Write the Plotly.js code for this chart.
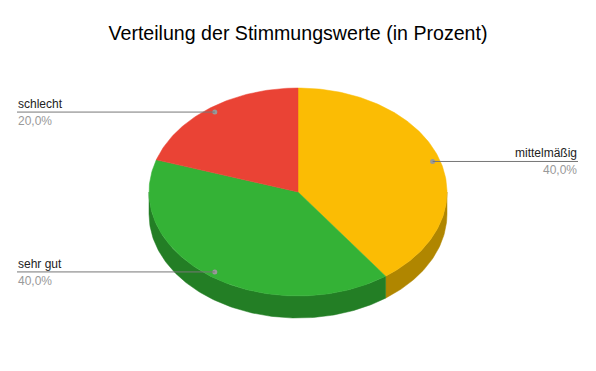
<!DOCTYPE html>
<html>
<head>
<meta charset="utf-8">
<script src="https://cdn.plot.ly/plotly-3.0.1.min.js"></script>
<style>html,body{margin:0;padding:0;background:#fff;}#chart{width:596px;height:371px;}</style>
</head>
<body>
<div id="chart"></div>
<script>
// Data
const categories = ["mittelmäßig", "sehr gut", "schlecht"];
const values = [40, 40, 20];
const topColors = ["#FBBC04", "#34B236", "#EA4335"];
const sideColors = ["#B08600", "#237E25", "#A42F25"];

// Layout geometry for the pseudo-3D pie
const W = 596, H = 371;
const cx = 298, cy = 192, rx = 149, ry = 104, depth = 22;
const total = values.reduce((a, b) => a + b, 0);
const deg = Math.PI / 180;

function pt(theta, dy) {
  return [cx + rx * Math.sin(theta * deg), cy - ry * Math.cos(theta * deg) + (dy || 0)];
}
function arc(a, b, dy) {
  const n = Math.max(2, Math.ceil(Math.abs(b - a) / 1));
  const xs = [], ys = [];
  for (let i = 0; i <= n; i++) {
    const t = a + (b - a) * i / n;
    const p = pt(t, dy);
    xs.push(p[0]); ys.push(p[1]);
  }
  return [xs, ys];
}

const traces = [];
const slices = [];
let start = 0;
values.forEach((v, i) => {
  const sweep = v / total * 360;
  slices.push({a: start, b: start + sweep, i});
  start += sweep;
});

// side walls (visible front half: 90..270 deg)
slices.forEach(s => {
  const a = Math.max(s.a, 90), b = Math.min(s.b, 270);
  if (b <= a) return;
  const [x1, y1] = arc(a, b, 0);
  const [x2, y2] = arc(b, a, depth);
  traces.push({
    type: "scatter", mode: "lines", fill: "toself",
    x: x1.concat(x2, [x1[0]]), y: y1.concat(y2, [y1[0]]),
    fillcolor: sideColors[s.i], line: {width: 0.5, color: sideColors[s.i]},
    hoverinfo: "skip", showlegend: false
  });
});

// top faces
slices.forEach(s => {
  const [xa, ya] = arc(s.a, s.b, 0);
  traces.push({
    type: "scatter", mode: "lines", fill: "toself",
    x: [cx].concat(xa, [cx]), y: [cy].concat(ya, [cy]),
    fillcolor: topColors[s.i], line: {width: 0.5, color: topColors[s.i]},
    hoverinfo: "skip", showlegend: false
  });
});

// leader lines, dots, labels
const shapes = [], annotations = [];
const dotX = [], dotY = [];
const labelFont = {family: "Liberation Sans, Arial, sans-serif", size: 12, color: "#222222"};
const pctFont = {family: "Liberation Sans, Arial, sans-serif", size: 12, color: "#999999"};
slices.forEach(s => {
  const mid = (s.a + s.b) / 2;
  const x = cx + 0.95 * rx * Math.sin(mid * deg);
  const y = cy - 0.95 * ry * Math.cos(mid * deg);
  dotX.push(x); dotY.push(y);
  const left = Math.sin(mid * deg) < 0;
  const ex = left ? 17 : 578;
  shapes.push({type: "line", xref: "x", yref: "y", x0: ex, x1: x, y0: y, y1: y,
    line: {color: "#777777", width: 1}});
  const pct = (values[s.i] / total * 100).toFixed(1).replace(".", ",") + "%";
  annotations.push({xref: "x", yref: "y", x: ex, y: y - 8, text: categories[s.i], borderpad: 0,
    showarrow: false, xanchor: left ? "left" : "right", yanchor: "middle", font: labelFont});
  annotations.push({xref: "x", yref: "y", x: ex, y: y + 9, text: pct, borderpad: 0,
    showarrow: false, xanchor: left ? "left" : "right", yanchor: "middle", font: pctFont});
});
traces.push({type: "scatter", mode: "markers", x: dotX, y: dotY,
  marker: {size: 5, color: "#999999"}, hoverinfo: "skip", showlegend: false});

const layout = {
  width: W, height: H,
  margin: {l: 0, r: 0, t: 0, b: 0},
  paper_bgcolor: "#ffffff", plot_bgcolor: "#ffffff",
  title: {text: "Verteilung der Stimmungswerte (in Prozent)",
    font: {family: "Liberation Sans, Arial, sans-serif", size: 19.6, color: "#000000"},
    x: 0.5, xanchor: "center", y: 1 - 33 / H, yanchor: "middle", yref: "paper"},
  xaxis: {range: [0, W], visible: false, fixedrange: true},
  yaxis: {range: [H, 0], visible: false, fixedrange: true},
  shapes: shapes, annotations: annotations, showlegend: false
};
Plotly.newPlot("chart", traces, layout, {displayModeBar: false, staticPlot: true});
</script>
</body>
</html>
